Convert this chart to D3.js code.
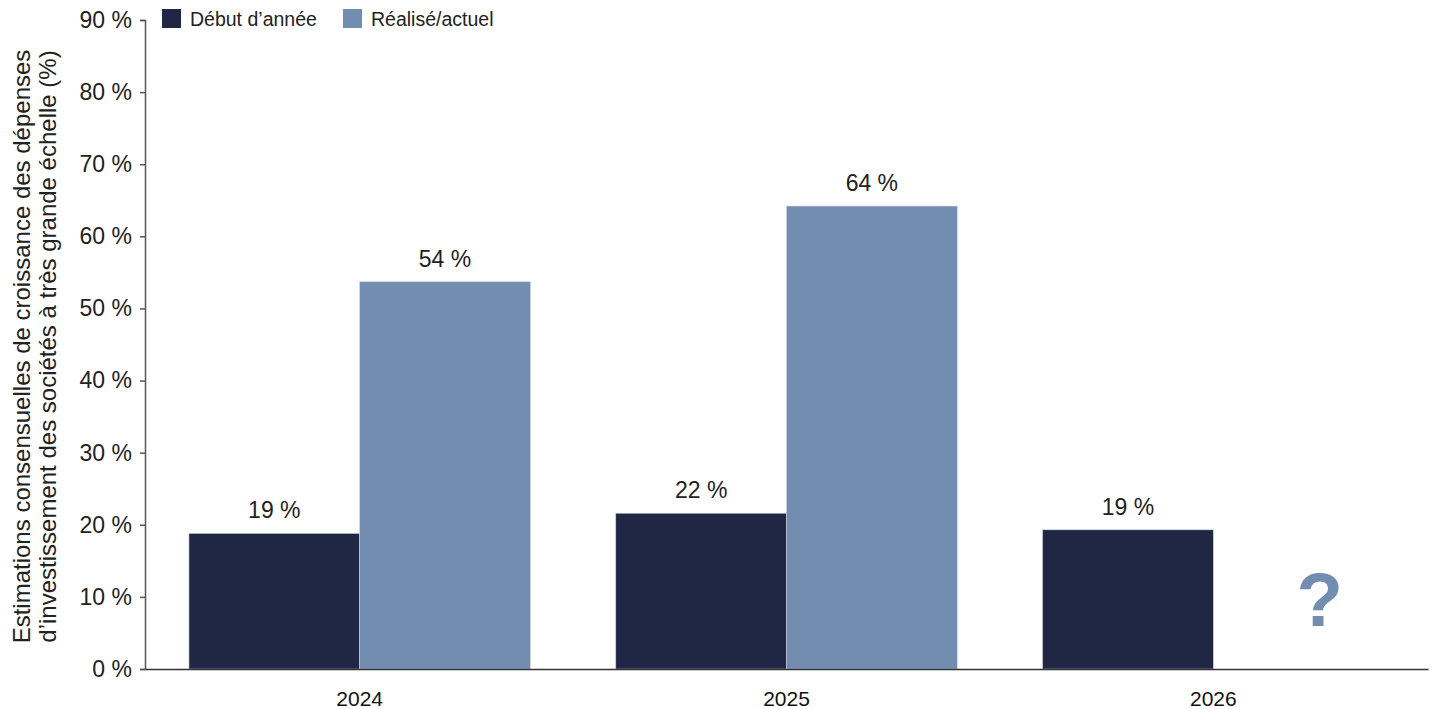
<!DOCTYPE html>
<html>
<head>
<meta charset="utf-8">
<script src="https://cdn.jsdelivr.net/npm/d3@7"></script>
<style>
  body { margin: 0; background: #fff; }
  text { font-family: "Liberation Sans", Arial, sans-serif; }
</style>
</head>
<body>
<div id="chart-area"></div>
<script>
var years = ["2024", "2025", "2026"];
var seriesNames = ["Début d’année", "Réalisé/actuel"];
var debutAnnee = [18.8, 21.6, 19.3];
var realise = [53.7, 64.2, null];
var valueLabels = [["19 %", "22 %", "19 %"], ["54 %", "64 %", ""]];
var yTicks = [0, 10, 20, 30, 40, 50, 60, 70, 80, 90];
var colors = ["#1f2744", "#738db0"];

var W = 1432, H = 709;
var margin = {left: 145, right: 4, top: 20, bottom: 40};
var width = W - margin.left - margin.right;
var height = H - margin.top - margin.bottom;

var svg = d3.select("#chart-area").append("svg")
    .attr("width", W)
    .attr("height", H);
var g = svg.append("g")
    .attr("transform", "translate(" + margin.left + "," + margin.top + ")");

var x = d3.scaleBand().domain(years).range([0, width]).paddingInner(0.2).paddingOuter(0.103);
var x1 = d3.scaleBand().domain([0, 1]).range([0, x.bandwidth()]);
var y = d3.scaleLinear().domain([0, 90]).range([height, 0]);

var data = [];
years.forEach(function (yr, i) {
    data.push({year: yr, s: 0, v: debutAnnee[i], label: valueLabels[0][i]});
    if (realise[i] != null) data.push({year: yr, s: 1, v: realise[i], label: valueLabels[1][i]});
});

g.selectAll("rect.bar").data(data).enter().append("rect")
    .attr("class", "bar")
    .attr("x", function (d) { return x(d.year) + x1(d.s); })
    .attr("y", function (d) { return y(d.v); })
    .attr("width", x1.bandwidth())
    .attr("height", function (d) { return height - y(d.v); })
    .attr("fill", function (d) { return colors[d.s]; })
    .attr("stroke", "#c9d0de")
    .attr("stroke-width", 0.6);

g.selectAll("text.val").data(data).enter().append("text")
    .attr("class", "val")
    .attr("x", function (d) { return x(d.year) + x1(d.s) + x1.bandwidth() / 2; })
    .attr("y", function (d) { return y(d.v) - 15; })
    .attr("text-anchor", "middle")
    .attr("font-size", "23px")
    .attr("fill", "#222")
    .text(function (d) { return d.label; });

// missing 2026 value
g.append("text")
    .attr("x", x("2026") + x1(1) + x1.bandwidth() / 2 + 21)
    .attr("y", y(0) - 43)
    .attr("text-anchor", "middle")
    .attr("font-family", "'Open Sans', sans-serif")
    .attr("font-weight", "bold")
    .attr("font-size", "76px")
    .attr("fill", "#738db0")
    .text("?");

var leftAxis = d3.axisLeft(y).tickValues(yTicks).tickSize(5).tickPadding(8)
    .tickFormat(function (d) { return d + " %"; });
var la = g.append("g").attr("class", "left axis").call(leftAxis);
la.select(".domain").attr("stroke", "#555").attr("stroke-width", 1.5);
la.selectAll(".tick line").attr("stroke", "#555").attr("stroke-width", 1.5);
la.selectAll("text").attr("font-size", "23px").attr("fill", "#222")
    .attr("font-family", "'Liberation Sans', Arial, sans-serif");

var bottomAxis = d3.axisBottom(x).tickSize(0).tickPadding(22);
var ba = g.append("g").attr("class", "bottom axis")
    .attr("transform", "translate(0," + height + ")")
    .call(bottomAxis);
ba.select(".domain").attr("stroke", "#333").attr("stroke-width", 1.5);
ba.selectAll("text").attr("font-size", "21px").attr("fill", "#111")
    .attr("font-family", "'Open Sans', sans-serif").attr("font-weight", 500);

// y axis label
var yl = svg.append("text")
    .attr("transform", "translate(30," + (margin.top + height / 2 + 2) + ") rotate(-90)")
    .attr("text-anchor", "middle")
    .attr("font-size", "24px")
    .attr("fill", "#222");
yl.append("tspan").attr("x", 0).attr("dy", 0)
    .text("Estimations consensuelles de croissance des dépenses");
yl.append("tspan").attr("x", 0).attr("dy", 26)
    .text("d’investissement des sociétés à très grande échelle (%)");

// legend
var legendX = [162, 343];
var lg = svg.selectAll("g.legend").data(seriesNames).enter().append("g")
    .attr("class", "legend")
    .attr("transform", function (d, i) { return "translate(" + legendX[i] + ",9)"; });
lg.append("rect").attr("width", 19).attr("height", 19)
    .attr("fill", function (d, i) { return colors[i]; });
lg.append("text").attr("x", 28).attr("y", 17).attr("font-size", "19.5px").attr("fill", "#222")
    .text(function (d) { return d; });
</script>
</body>
</html>
